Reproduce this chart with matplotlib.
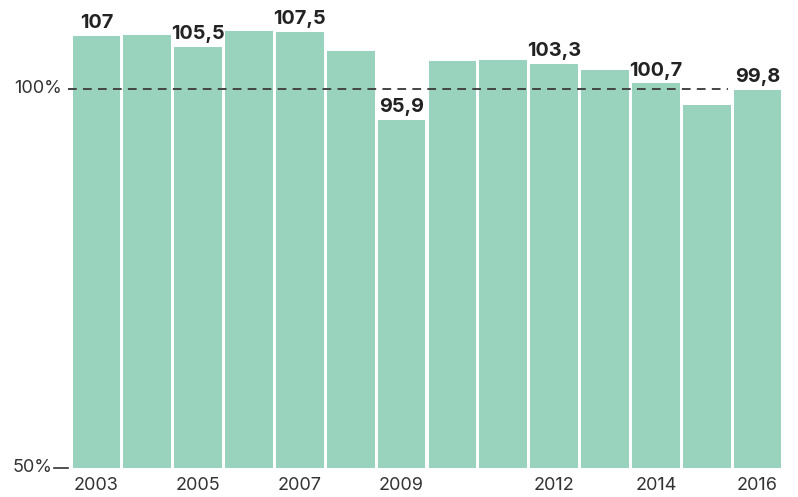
import matplotlib
matplotlib.use("Agg")
import matplotlib.pyplot as plt
import matplotlib.transforms as mtransforms

plt.rcParams['font.family'] = ['Inter', 'DejaVu Sans']

years = [2003, 2004, 2005, 2006, 2007, 2008, 2009, 2010, 2011, 2012, 2013, 2014, 2015, 2016]
values = [107.0, 107.1, 105.5, 107.6, 107.5, 105.0, 95.9, 103.6, 103.8, 103.3, 102.4, 100.7, 97.9, 99.8]
labelled = {2003: "107", 2005: "105,5", 2007: "107,5", 2009: "95,9",
            2012: "103,3", 2014: "100,7", 2016: "99,8"}
tick_years = [2003, 2005, 2007, 2009, 2012, 2014, 2016]

fig = plt.figure(figsize=(7.98, 4.97), dpi=100)
ax = fig.add_axes([71 / 798, (497 - 467.7) / 497, (783 - 71) / 798, 467.7 / 497])

x = list(range(len(years)))
ax.bar(x, [v - 50 for v in values], bottom=50, width=0.94, color="#99d3bd", zorder=1)

# dashed reference line at 100%
ax.plot([-0.56, 12.42], [100, 100], ls=(0, (4.5, 3.2)), color="#444444", lw=1.4,
        clip_on=False, zorder=3)
# small tick at 50%
ax.plot([-0.84, -0.56], [50, 50], color="#333333", lw=1.2, clip_on=False)

for i, (yr, v) in enumerate(zip(years, values)):
    if yr in labelled:
        ax.text(i, v + 0.5, labelled[yr], ha="center", va="bottom",
                fontsize=14.3, fontweight="bold", color="#222222")

ax.set_xlim(-0.5, len(years) - 0.5)
ax.set_ylim(50, 111.7)

trans = mtransforms.blended_transform_factory(ax.transAxes, ax.transData)
ax.set_yticks([])
ax.text(-9 / 712, 100, "100%", ha="right", va="center", fontsize=13,
        color="#333333", transform=trans)
ax.text(-19 / 712, 50, "50%", ha="right", va="center", fontsize=13,
        color="#333333", transform=trans)

ax.set_xticks([years.index(y) for y in tick_years])
ax.set_xticklabels([str(y) for y in tick_years])
ax.tick_params(axis="x", length=0, pad=7, labelsize=13, labelcolor="#333333")

for s in ax.spines.values():
    s.set_visible(False)

fig.savefig("out.png", dpi=100)
